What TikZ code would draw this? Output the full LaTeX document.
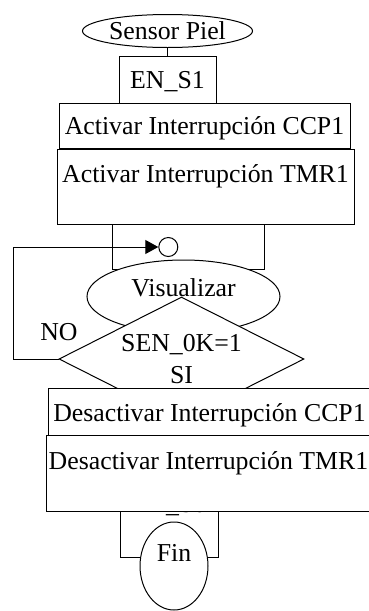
\documentclass[tikz,border=0pt]{standalone}
\usepackage{fontspec}
\setmainfont{Liberation Serif}
\usetikzlibrary{shapes.geometric,arrows.meta}

\begin{document}
\begin{tikzpicture}[x=1pt,y=-1pt,line width=1pt,
  every node/.style={font=\fontsize{25.8}{32}\selectfont,inner sep=0pt},
  procbox/.style={draw,fill=white,rectangle},
  termbox/.style={draw,fill=white,ellipse}]
\useasboundingbox (0,0) rectangle (369,611);

\node[termbox,minimum width=170,minimum height=33] (sensor) at (167.5,31) {Sensor Piel};
\node[procbox,minimum width=97,text height=32,text depth=16] (ens1) at (167.5,80) {EN\_S1};
\draw (sensor) -- (ens1);

\node[procbox,minimum width=291,text height=31,text depth=14] (actccp) at (204.5,125.5) {Activar Interrupción CCP1};
\node[procbox,minimum width=152,minimum height=69] (loopbox) at (188,234.5) {};
\node[procbox,minimum width=297,text height=33,text depth=42] (acttmr) at (205.5,186.5) {Activar Interrupción TMR1};

\node[draw,circle,minimum size=19] (join) at (168.3,247) {};
\node[termbox,minimum width=193,minimum height=73,text height=0,text depth=0] (visual) at (183.5,296.5) {Visualizar};
\node[draw,fill=white,diamond,aspect=2,minimum width=245,minimum height=124,align=center] (dec) at (181.5,359) {SEN\_0K=1\\SI};
\coordinate (loopcorner) at (13,359);
\draw[-{Triangle[length=13pt,width=14pt]}] (dec.west) -- (loopcorner) |- (join.west);
\node (no) at (59,332) {NO};

\node[procbox,minimum width=98,text height=32,text depth=45] (ens0) at (169,518.5) {EN\_S0};
\node[procbox,minimum width=323,text height=33,text depth=14] (desccp) at (209.5,411.5) {Desactivar Interrupción CCP1};
\node[procbox,minimum width=325,text height=34,text depth=42] (destmr) at (208.5,473) {Desactivar Interrupción TMR1};
\node[termbox,minimum width=68,minimum height=88,text height=0,text depth=10] (fin) at (174,566) {Fin};
\end{tikzpicture}
\end{document}
